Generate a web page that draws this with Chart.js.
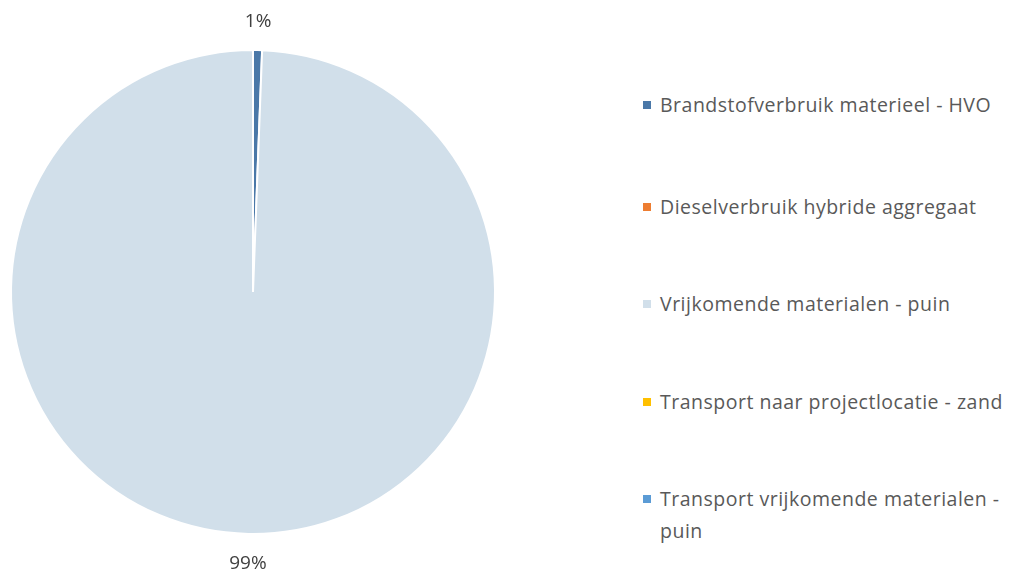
<!DOCTYPE html>
<html>
<head>
<meta charset="utf-8">
<script src="https://cdn.jsdelivr.net/npm/chart.js@4"></script>
<style>
  body { margin: 0; background: #fff; width: 1013px; height: 574px; overflow: hidden; position: relative; font-family: 'Open Sans', sans-serif; }
  #wrap { position: absolute; left: 0; top: 0; width: 506px; height: 574px; }
  #legend { position: absolute; left: 643px; top: 0; width: 370px; }
  .item { position: absolute; left: 0; font-size: 19.5px; letter-spacing: 0.5px; line-height: 32px; color: #595959; padding-left: 17px; width: 352px; }
  .item span { position: absolute; left: 0; top: 12px; width: 8px; height: 8px; }
</style>
</head>
<body>
<div id="wrap"><canvas id="pie"></canvas></div>
<div id="legend"></div>
<script>
  const labels = [
    'Brandstofverbruik materieel - HVO',
    'Dieselverbruik hybride aggregaat',
    'Vrijkomende materialen - puin',
    'Transport naar projectlocatie - zand',
    'Transport vrijkomende materialen - puin'
  ]
  const values = [0.6, 0, 99.4, 0, 0]
  const colors = ['#4A78A8', '#ED7D31', '#D1DFEA', '#FFC000', '#5B9BD5']
  const shownLabels = ['1%', '', '99%', '', '']

  // legend as html so the long label can wrap
  const legendTops = [89, 191, 288, 386, 483]
  const legend = document.getElementById('legend')
  labels.forEach((l, i) => {
    const d = document.createElement('div')
    d.className = 'item'
    d.style.top = legendTops[i] + 'px'
    d.innerHTML = '<span style="background:' + colors[i] + '"></span>' + l
    legend.appendChild(d)
  })

  // percentage labels outside the slices
  const outsideLabels = {
    id: 'outsideLabels',
    afterDatasetsDraw (chart) {
      const ctx = chart.ctx
      const meta = chart.getDatasetMeta(0)
      ctx.save()
      ctx.font = '19px "Open Sans"'
      ctx.fillStyle = '#404040'
      ctx.textAlign = 'center'
      ctx.textBaseline = 'middle'
      meta.data.forEach((arc, i) => {
        if (!shownLabels[i]) return
        const a = (arc.startAngle + arc.endAngle) / 2
        const r = arc.outerRadius + 29
        ctx.fillText(shownLabels[i], arc.x + Math.cos(a) * r, arc.y + Math.sin(a) * r + 1)
      })
      ctx.restore()
    }
  }

  const canvas = document.getElementById('pie')
  new Chart(canvas.getContext('2d'), {
    type: 'pie',
    data: {
      labels,
      datasets: [{
        data: values,
        backgroundColor: colors,
        borderColor: '#ffffff',
        borderWidth: 2
      }]
    },
    options: {
      responsive: true,
      maintainAspectRatio: false,
      animation: false,
      layout: { padding: { top: 49, bottom: 39, left: 0, right: 0 } },
      plugins: {
        legend: { display: false },
        tooltip: { enabled: false }
      }
    },
    plugins: [outsideLabels]
  })
</script>
</body>
</html>
